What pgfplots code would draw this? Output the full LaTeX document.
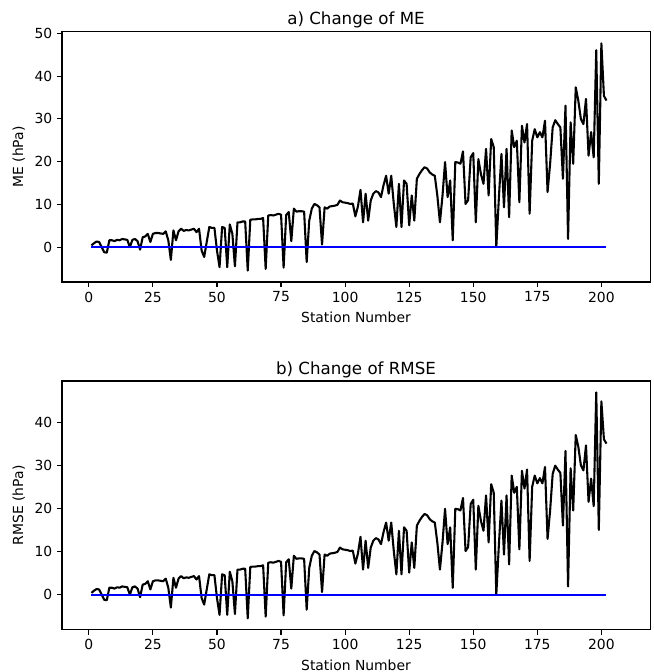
\documentclass[border=0pt]{standalone}
\usepackage{fontspec}
\setmainfont{DejaVu Sans}
\usepackage{pgfplots}
\pgfplotsset{compat=1.18}
\usepackage{pgfplotstable}

\pgfplotstableread{
s me rmse
1 0.4 0.4
2 0.9 0.9
3 1.3 1.3
4 1.2 1.2
5 0.0 0.0
6 -1.2 -1.2
7 -1.3 -1.3
8 1.6 1.6
9 1.6 1.6
10 1.4 1.4
11 1.7 1.7
12 1.6 1.6
13 1.9 1.9
14 1.8 1.8
15 1.7 1.7
16 0.0 0.0
17 1.7 1.7
18 1.9 1.9
19 1.4 1.4
20 -0.6 -0.6
21 2.3 2.3
22 2.5 2.5
23 3.1 3.1
24 1.2 1.2
25 3.1 3.1
26 3.3 3.3
27 3.3 3.3
28 3.2 3.2
29 3.1 3.1
30 3.7 3.7
31 1.6 1.6
32 -3.0 -3.0
33 3.9 3.9
34 1.6 1.6
35 3.7 3.7
36 4.3 4.3
37 3.8 3.8
38 4.0 4.0
39 3.9 3.9
40 4.1 4.1
41 4.3 4.3
42 3.5 3.5
43 4.3 4.3
44 -0.8 -0.8
45 -2.3 -2.3
46 1.2 1.2
47 4.7 4.7
48 4.5 4.5
49 4.5 4.5
50 -0.8 -0.8
51 -4.7 -4.7
52 4.7 4.7
53 4.5 4.5
54 -4.7 -4.7
55 5.3 5.3
56 3.1 3.1
57 -4.5 -4.5
58 5.8 5.8
59 5.8 5.8
60 6.0 6.0
61 6.0 6.0
62 -5.5 -5.5
63 6.4 6.4
64 6.5 6.5
65 6.5 6.5
66 6.6 6.6
67 6.6 6.6
68 6.8 6.8
69 -5.1 -5.1
70 7.4 7.4
71 7.5 7.5
72 7.4 7.4
73 7.6 7.6
74 7.8 7.8
75 7.6 7.6
76 -4.8 -4.8
77 7.5 7.5
78 8.2 8.2
79 1.4 1.4
80 9.0 9.0
81 8.3 8.3
82 8.4 8.4
83 8.4 8.4
84 8.3 8.3
85 -3.5 -3.5
86 6.2 6.2
87 9.0 9.0
88 10.1 10.1
89 9.8 9.8
90 9.3 9.3
91 0.6 0.6
92 9.3 9.3
93 9.0 9.0
94 9.5 9.5
95 9.6 9.6
96 9.7 9.7
97 9.9 9.9
98 10.9 10.9
99 10.5 10.5
100 10.4 10.4
101 10.3 10.3
102 10.1 10.1
103 10.2 10.2
104 7.2 7.2
105 9.5 9.5
106 13.4 13.4
107 5.8 5.8
108 12.5 12.5
109 6.2 6.2
110 10.9 10.9
111 12.5 12.5
112 13.1 13.1
113 12.8 12.8
114 11.7 11.7
115 14.5 14.5
116 16.7 16.7
117 12.5 12.5
118 16.7 16.7
119 10.1 10.1
120 4.7 4.7
121 14.8 14.8
122 4.7 4.7
123 15.6 15.6
124 14.8 14.8
125 5.1 5.1
126 12.1 12.1
127 6.2 6.2
128 16.0 16.0
129 17.1 17.1
130 18.0 18.0
131 18.7 18.7
132 18.4 18.4
133 17.5 17.5
134 17.0 17.0
135 16.7 16.7
136 12.0 12.0
137 5.8 5.8
138 12.0 12.0
139 19.9 19.9
140 11.7 11.7
141 15.6 15.6
142 1.6 1.6
143 19.9 19.9
144 19.8 19.8
145 19.5 19.5
146 22.4 22.4
147 10.1 10.1
148 11.0 11.0
149 21.0 21.0
150 22.0 22.0
151 5.8 5.8
152 20.6 20.6
153 17.1 17.1
154 14.8 14.8
155 23.0 23.0
156 12.1 12.1
157 25.3 25.6
158 23.4 23.6
159 0.0 0.0
160 11.5 11.5
161 21.8 21.8
162 9.3 9.3
163 23.0 23.0
164 7.0 7.0
165 27.3 27.6
166 23.4 23.6
167 24.9 25.0
168 10.5 10.5
169 28.4 28.7
170 24.5 24.6
171 28.8 29.0
172 7.8 7.8
173 24.9 25.0
174 27.6 27.6
175 25.7 25.8
176 26.9 27.0
177 25.7 25.8
178 29.6 29.6
179 12.9 12.9
180 19.5 19.5
181 28.0 28.0
182 29.7 29.9
183 28.8 29.0
184 28.0 28.2
185 16.0 16.0
186 33.1 33.3
187 1.9 1.9
188 29.2 29.3
189 19.5 19.5
190 37.4 37.0
191 34.3 34.3
192 30.0 30.0
193 28.8 28.8
194 34.7 34.6
195 21.4 21.5
196 26.9 26.9
197 21.0 20.5
198 46.1 46.9
199 14.8 15.0
200 47.7 44.8
201 35.4 36.0
202 34.3 35.0
}\data

\pgfplotstableread{
s z
1 0
202 0
}\zero

\pgfplotsset{
  mpl/.style={
    scale only axis,
    width=423.4pt,
    xmin=-10.5, xmax=219,
    xtick={0,25,...,200},
    tick align=outside,
    tick pos=left,
    major tick length=3.5pt,
    every tick/.style={black, line width=0.8pt},
    axis line style={line width=0.8pt},
    /pgf/number format/assume math mode=true,
    ticklabel style={font=\fontsize{10}{12}\selectfont},
    label style={font=\fontsize{10}{12}\selectfont},
    title style={font=\fontsize{12}{14}\selectfont, at={(0.5,1)}, anchor=base, yshift=-1pt},
    xlabel={Station Number},
    clip=true,
  }
}

\begin{document}
\begin{tikzpicture}
\useasboundingbox (-44.6pt,23pt) rectangle (425.6pt,-460.8pt);
\begin{axis}[mpl, at={(0,0)}, anchor=north west, height=180pt,
  ymin=-8.16, ymax=50.36, ytick={0,10,...,50},
  title={a) Change of ME}, ylabel={ME (hPa)}]
\addplot[black, line width=1.5pt, line join=round] table[x=s, y=me] {\data};
\addplot[blue, line width=1.5pt] table[x=s, y=z] {\zero};
\end{axis}
\begin{axis}[mpl, at={(0,-251.3pt)}, anchor=north west, height=179pt,
  ymin=-8.12, ymax=49.52, ytick={0,10,...,40},
  title={b) Change of RMSE}, ylabel={RMSE (hPa)}]
\addplot[black, line width=1.5pt, line join=round] table[x=s, y=rmse] {\data};
\addplot[blue, line width=1.5pt] table[x=s, y=z] {\zero};
\end{axis}
\end{tikzpicture}
\end{document}
